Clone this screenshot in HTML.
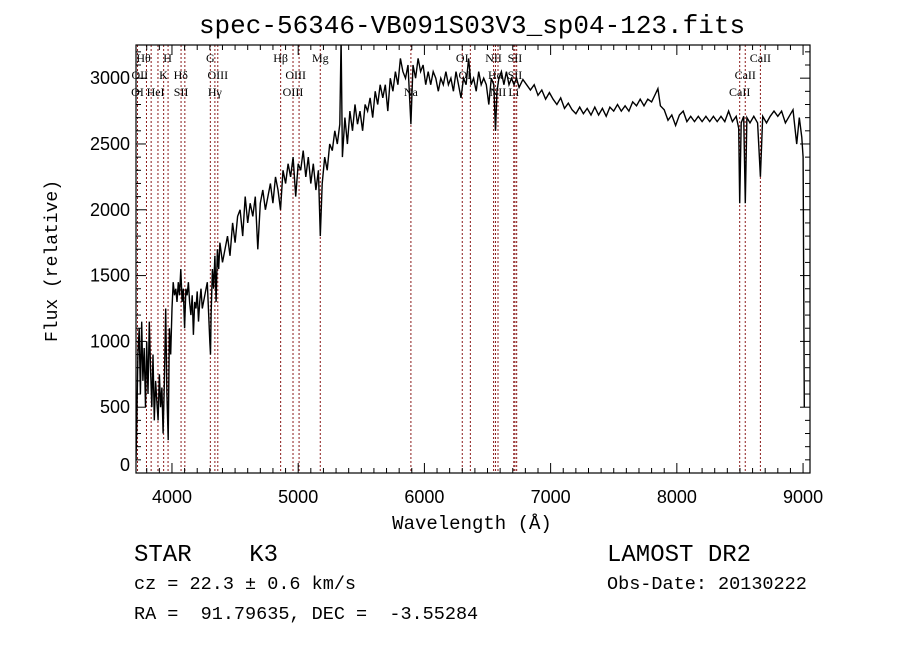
<!DOCTYPE html>
<html><head><meta charset="utf-8"><style>
html,body{margin:0;padding:0;background:#fff;width:900px;height:649px;overflow:hidden}
svg{display:block}
</style></head><body>
<svg id="chart" width="900" height="649" xmlns="http://www.w3.org/2000/svg">
<rect x="0" y="0" width="900" height="649" fill="#fff"/>
<text x="472" y="33" text-anchor="middle" font-family="Liberation Mono, monospace" font-size="26" fill="#000">spec-56346-VB091S03V3_sp04-123.fits</text>
<text x="472" y="529" text-anchor="middle" font-family="Liberation Mono, monospace" font-size="19" fill="#000">Wavelength (Å)</text>
<text transform="translate(57,261) rotate(-90)" text-anchor="middle" font-family="Liberation Mono, monospace" font-size="18" fill="#000">Flux (relative)</text>
<text x="134" y="561" font-family="Liberation Mono, monospace" font-size="24" fill="#000" xml:space="preserve">STAR    K3</text>
<text x="134" y="589" font-family="Liberation Mono, monospace" font-size="18.5" fill="#000">cz = 22.3 ± 0.6 km/s</text>
<text x="134" y="619" font-family="Liberation Mono, monospace" font-size="18.5" fill="#000" xml:space="preserve">RA =  91.79635, DEC =  -3.55284</text>
<text x="607" y="561" font-family="Liberation Mono, monospace" font-size="24" fill="#000">LAMOST DR2</text>
<text x="607" y="589" font-family="Liberation Mono, monospace" font-size="18.5" fill="#000">Obs-Date: 20130222</text>
<g id="plot"></g>
</svg>
<script>
const waves=[3715,3720,3730,3740,3750,3760,3770,3780,3790,3800,3810,3820,3830,3840,3850,3860,3870,3880,3890,3900,3910,3920,3930,3940,3950,3960,3970,3980,3990,4000,4010,4020,4030,4040,4050,4060,4070,4080,4090,4100,4110,4120,4130,4140,4150,4160,4170,4180,4190,4200,4210,4220,4230,4240,4260,4280,4300,4305,4310,4320,4330,4340,4350,4360,4370,4380,4400,4420,4440,4460,4480,4500,4520,4540,4560,4580,4600,4620,4640,4660,4680,4700,4720,4740,4760,4780,4800,4820,4840,4860,4880,4900,4920,4940,4960,4980,5000,5020,5040,5060,5080,5100,5120,5140,5160,5175,5190,5210,5230,5250,5270,5290,5310,5330,5340,5350,5370,5390,5410,5430,5450,5470,5490,5510,5530,5550,5570,5590,5610,5630,5650,5670,5690,5710,5730,5750,5770,5790,5810,5830,5850,5870,5893,5910,5930,5950,5970,5990,6010,6030,6050,6070,6090,6110,6130,6150,6170,6190,6210,6230,6250,6270,6290,6310,6330,6350,6370,6390,6410,6430,6450,6470,6490,6510,6530,6550,6563,6575,6590,6610,6630,6650,6670,6690,6710,6730,6750,6780,6810,6840,6870,6900,6930,6960,6990,7020,7050,7080,7110,7140,7170,7200,7230,7260,7290,7320,7350,7380,7410,7440,7470,7500,7530,7560,7590,7620,7650,7680,7710,7740,7770,7800,7830,7850,7870,7900,7930,7960,7990,8020,8050,8080,8110,8140,8170,8200,8230,8260,8290,8320,8350,8380,8410,8440,8470,8490,8498,8510,8530,8542,8555,8580,8610,8640,8662,8680,8710,8740,8770,8800,8830,8860,8890,8920,8950,8970,8990,9000,9010];
const flux=[100,300,900,1100,600,1150,700,950,500,1000,600,1150,800,500,900,400,700,550,400,750,500,650,300,700,1250,600,250,1100,900,1250,1450,1350,1400,1300,1450,1350,1550,1300,1400,1100,1400,1350,1450,1300,1200,1350,1050,1300,1250,1380,1150,1300,1400,1250,1350,1450,1000,900,1200,1550,1400,1650,1300,1700,1550,1750,1600,1700,1800,1650,1900,1750,1950,2000,1800,2100,1900,2050,1950,2100,1700,2050,2150,2000,2100,2200,2050,2250,2150,2000,2300,2200,2350,2250,2400,2100,2350,2300,2450,2250,2400,2200,2350,2150,2300,1800,2200,2400,2300,2500,2450,2600,2500,2650,3300,2400,2700,2500,2750,2600,2800,2650,2750,2600,2800,2750,2850,2700,2900,2800,2950,2850,2950,2750,3000,2900,3050,2950,3150,3050,3000,3100,2650,3100,3000,3150,3050,3100,2950,3050,2950,3050,3000,2900,3000,2950,3050,2950,3000,2900,3050,2950,2850,3000,2950,3150,2950,3000,2900,3050,2950,3000,2950,2800,3000,2950,2600,2900,3000,3050,2950,3050,2950,3000,2950,3000,2930,2990,2950,2910,2950,2870,2910,2840,2890,2840,2800,2850,2770,2810,2760,2730,2780,2730,2770,2720,2780,2720,2770,2710,2780,2750,2800,2750,2790,2750,2820,2790,2840,2790,2840,2820,2880,2920,2790,2760,2680,2720,2640,2720,2750,2670,2710,2670,2710,2670,2710,2670,2710,2670,2710,2670,2750,2670,2710,2620,2050,2660,2710,2050,2700,2660,2710,2660,2250,2710,2660,2710,2750,2710,2750,2660,2710,2760,2500,2700,2550,2400,500];
const lineWaves=[3727,3798,3835,3889,3934,3969,4072,4102,4304,4340,4363,4861,4959,5007,5175,5893,6300,6364,6548,6563,6583,6708,6717,6731,8498,8542,8662];
const labels=[["Hθ",3775,0],["H",3965,0],["OII",3745,1],["K",3933,1],["Hδ",4070,1],["OI",3727,2],["HeI",3870,2],["SII",4072,2],["G",4304,0],["OIII",4363,1],["Hγ",4340,2],["Hβ",4861,0],["OIII",4980,1],["OIII",4959,2],["Mg",5175,0],["Na",5893,2],["OI",6300,0],["OI",6320,1],["NII",6548,0],["Hα",6563,1],["NII",6583,2],["SII",6717,0],["SII",6717,1],["Li",6708,2],["CaII",8662,0],["CaII",8542,1],["CaII",8498,2]];
const xTicks=[4000,5000,6000,7000,8000,9000];
const yTicks=[0,500,1000,1500,2000,2500,3000];
const L=136,R=810,T=45,B=473;
const wMin=3715,wMax=9055,fMin=0,fMax=3252;
const X=w=>L+(w-wMin)/(wMax-wMin)*(R-L);
const Y=f=>B-(f-fMin)/(fMax-fMin)*(B-T);
const NS="http://www.w3.org/2000/svg";
const g=document.getElementById('plot');
function mk(tag,at){const e=document.createElementNS(NS,tag);for(const k in at)e.setAttribute(k,at[k]);g.appendChild(e);return e;}
const defs=mk('defs',{});
const cp=document.createElementNS(NS,'clipPath');cp.setAttribute('id','pc');
const cr=document.createElementNS(NS,'rect');cr.setAttribute('x',L);cr.setAttribute('y',T);cr.setAttribute('width',R-L);cr.setAttribute('height',B-T);
cp.appendChild(cr);defs.appendChild(cp);
lineWaves.forEach(w=>{
  const l=mk('line',{x1:X(w),x2:X(w),y1:T,y2:B,stroke:'#8b1a1a','stroke-width':1,'stroke-dasharray':'2,2'});
  
  
});
labels.forEach(([t,w,r])=>{
  const e=mk('text',{x:X(w),y:62+r*17,'text-anchor':'middle','font-family':'Liberation Serif, serif','font-size':12,fill:'#000'});
  e.textContent=t;
  
  
});
let d='';
waves.forEach((w,i)=>{d+=(i?'L':'M')+X(w).toFixed(1)+','+Y(flux[i]).toFixed(1);});
const sp=mk('path',{d:d,fill:'none',stroke:'#000','stroke-width':1.4,'clip-path':'url(#pc)'});


const fr=mk('rect',{x:L,y:T,width:R-L,height:B-T,fill:'none',stroke:'#000','stroke-width':1.2});


for(let w=3800;w<=wMax;w+=100){
  const major=w%1000===0, len=major?10:5;
  mk('line',{x1:X(w),x2:X(w),y1:B,y2:B-len,stroke:'#000'});
  mk('line',{x1:X(w),x2:X(w),y1:T,y2:T+len,stroke:'#000'});
}
xTicks.forEach(w=>{
  const e=mk('text',{x:X(w),y:B+30,'text-anchor':'middle','font-family':'Liberation Sans, sans-serif','font-size':18,fill:'#000'});
  e.textContent=w;
  
  
});
for(let f=0;f<=fMax;f+=100){
  const major=f%500===0,len=major?10:5;
  mk('line',{x1:L,x2:L+len,y1:Y(f),y2:Y(f),stroke:'#000'});
  mk('line',{x1:R,x2:R-len,y1:Y(f),y2:Y(f),stroke:'#000'});
}
yTicks.forEach(f=>{
  const e=mk('text',{x:L-6,y:Math.min(Y(f)+6,B-2),'text-anchor':'end','font-family':'Liberation Sans, sans-serif','font-size':18,fill:'#000'});
  e.textContent=f;
  
  
});
</script>
</body></html>
